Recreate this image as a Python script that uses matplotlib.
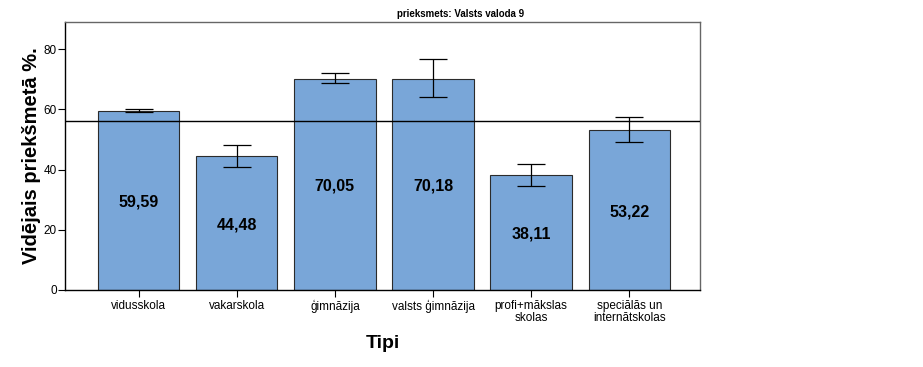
import matplotlib
matplotlib.use("Agg")
import matplotlib.pyplot as plt

plt.rcParams['font.family'] = ['Liberation Sans', 'DejaVu Sans']

categories = ["vidusskola", "vakarskola", "ģimnāzija", "valsts ģimnāzija",
              "profi+mākslas\nskolas", "speciālās un\ninternātskolas"]
means = [59.59, 44.48, 70.05, 70.18, 38.11, 53.22]
err_low = [59.2, 41.0, 68.6, 64.0, 34.7, 49.0]
err_high = [60.0, 48.0, 71.9, 76.6, 41.7, 57.4]
ref_value = 56.1
yticks = [0, 20, 40, 60, 80]

fig = plt.figure(figsize=(9.23, 3.67), dpi=100)
ax = fig.add_axes([65 / 923, 1 - 290 / 367, 635 / 923, 268 / 367])

x = list(range(len(categories)))
ax.bar(x, means, width=0.83, color='#79a6d8', edgecolor='#2b2b2b', linewidth=0.8, zorder=2)

yerr = [[m - lo for m, lo in zip(means, err_low)],
        [hi - m for m, hi in zip(means, err_high)]]
ax.errorbar(x, means, yerr=yerr, fmt='none', ecolor='black', elinewidth=0.9,
            capsize=10, capthick=0.9, zorder=3)

ax.axhline(ref_value, color='black', linewidth=1.0, zorder=4)

for xi, m in zip(x, means):
    ax.text(xi, m / 2 - 0.6, f"{m:.2f}".replace('.', ','), ha='center', va='center',
            fontsize=11.5, fontweight='bold', zorder=5)

ax.set_xlim(-0.75, 5.72)
ax.set_ylim(0, 89)
ax.set_yticks(yticks)
ax.set_xticks(x)
ax.set_xticklabels(categories, fontsize=8.5, linespacing=1.05)
ax.tick_params(axis='y', labelsize=8.5, length=5, width=0.8, pad=1)
ax.tick_params(axis='x', length=5, width=0.8, pad=2)

for side in ['left', 'bottom']:
    ax.spines[side].set_color('black')
    ax.spines[side].set_linewidth(1.0)
for side in ['top', 'right']:
    ax.spines[side].set_color('#666666')
    ax.spines[side].set_linewidth(1.0)

ax.set_ylabel("Vidējais priekšmetā %.", fontsize=14.5, fontweight='bold', labelpad=2)
ax.set_xlabel("Tipi", fontsize=14, fontweight='bold', labelpad=8)

fig.text(461 / 923, 1 - 14 / 367, "prieksmets: Valsts valoda 9", ha='center', va='center',
         fontsize=7, fontweight='bold')

fig.savefig("out.png", dpi=100)
